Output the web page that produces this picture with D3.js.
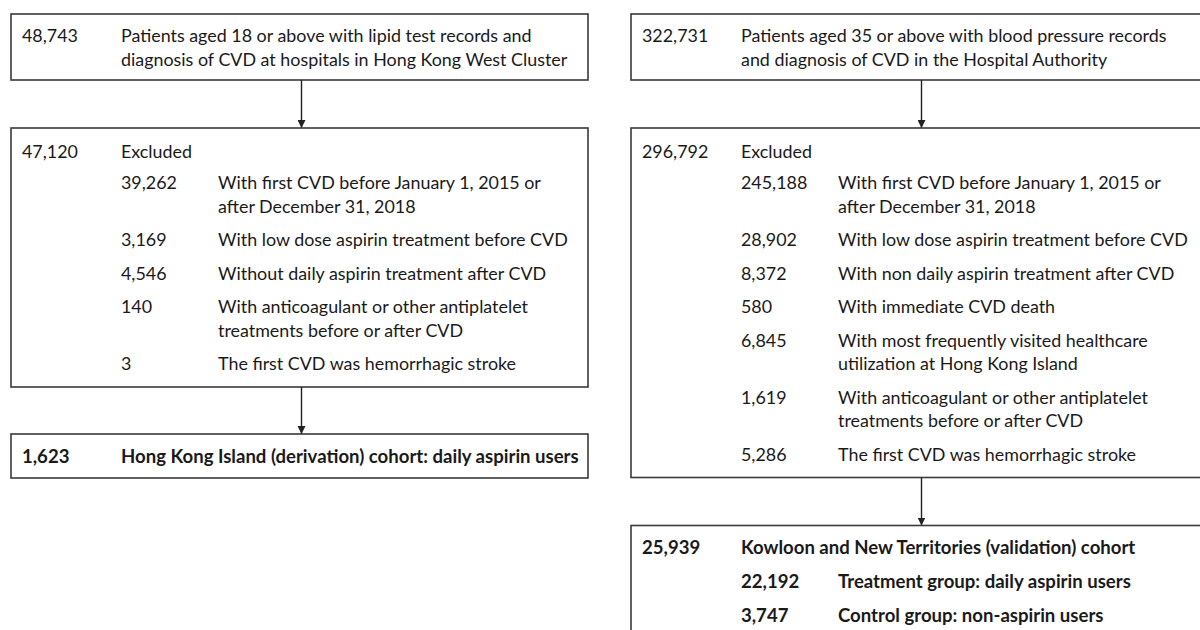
<!DOCTYPE html>
<html>
<head>
<meta charset="utf-8">
<script src="https://cdn.jsdelivr.net/npm/d3@7"></script>
<style>
  body { margin: 0; background: #fff; }
  svg { display: block; }
</style>
</head>
<body>
<div id="flow"></div>
<script>
// left flow: Hong Kong West Cluster
var leftStartCount = "48,743";
var leftStartText = ["Patients aged 18 or above with lipid test records and",
                     "diagnosis of CVD at hospitals in Hong Kong West Cluster"];
var leftExclCount = "47,120";
var leftExclCounts = ["39,262", "3,169", "4,546", "140", "3"];
var leftExclReasons = [
  ["With first CVD before January 1, 2015 or", "after December 31, 2018"],
  ["With low dose aspirin treatment before CVD"],
  ["Without daily aspirin treatment after CVD"],
  ["With anticoagulant or other antiplatelet", "treatments before or after CVD"],
  ["The first CVD was hemorrhagic stroke"]
];
var leftCohortCount = "1,623";
var leftCohortText = "Hong Kong Island (derivation) cohort: daily aspirin users";

// right flow: Hospital Authority
var rightStartCount = "322,731";
var rightStartText = ["Patients aged 35 or above with blood pressure records",
                      "and diagnosis of CVD in the Hospital Authority"];
var rightExclCount = "296,792";
var rightExclCounts = ["245,188", "28,902", "8,372", "580", "6,845", "1,619", "5,286"];
var rightExclReasons = [
  ["With first CVD before January 1, 2015 or", "after December 31, 2018"],
  ["With low dose aspirin treatment before CVD"],
  ["With non daily aspirin treatment after CVD"],
  ["With immediate CVD death"],
  ["With most frequently visited healthcare", "utilization at Hong Kong Island"],
  ["With anticoagulant or other antiplatelet", "treatments before or after CVD"],
  ["The first CVD was hemorrhagic stroke"]
];
var rightCohortCount = "25,939";
var rightCohortText = "Kowloon and New Territories (validation) cohort";
var rightGroupCounts = ["22,192", "3,747"];
var rightGroupText = ["Treatment group: daily aspirin users", "Control group: non-aspirin users"];

var width = 1200;
var height = 630;
var boxW = 577;
var lineH = 23.5;   // within one item
var itemH = 33.5;   // from one item to the next
var font = "Lato, 'Open Sans', sans-serif";

var svg = d3.select("#flow")
  .append("svg")
  .attr("width", width)
  .attr("height", height)
  .style("background", "#fff");

// fit the font so a known line has the width it has in the figure
function fit(str, weight, target) {
  var probe = svg.append("text")
    .attr("font-family", font)
    .attr("font-size", 20)
    .attr("font-weight", weight)
    .text(str);
  var size = 20 * target / probe.node().getComputedTextLength();
  probe.remove();
  return size;
}
var fontSize = fit("With low dose aspirin treatment before CVD", "normal", 350);
var boldSize = fit(leftCohortText, "bold", 458);

svg.append("defs").append("marker")
  .attr("id", "head")
  .attr("viewBox", "0 0 10 10")
  .attr("refX", 10).attr("refY", 5)
  .attr("markerWidth", 8).attr("markerHeight", 8)
  .attr("markerUnits", "userSpaceOnUse")
  .attr("orient", "auto")
  .append("path")
  .attr("d", "M0,0L10,5L0,10Z")
  .attr("fill", "#222");

// column offsets inside a box
var col = d3.scaleOrdinal()
  .domain(["c1", "c2", "c3"])
  .range([11, 110, 207]);

function box(x0, y0, y1) {
  svg.append("rect")
    .attr("x", x0).attr("y", y0)
    .attr("width", boxW).attr("height", y1 - y0)
    .attr("fill", "none")
    .attr("stroke", "#3a3a3a")
    .attr("stroke-width", 1.6);
}

function arrow(x0, y0, y1) {
  var x = x0 + boxW / 2 + 2;
  svg.append("line")
    .attr("x1", x).attr("x2", x)
    .attr("y1", y0).attr("y2", y1)
    .attr("stroke", "#222")
    .attr("stroke-width", 1.4)
    .attr("marker-end", "url(#head)");
}

function texts(x0, rows, bold) {
  svg.append("g").selectAll("text")
    .data(rows)
    .enter()
    .append("text")
    .attr("x", function(d) { return x0 + col(d.c); })
    .attr("y", function(d) { return d.y; })
    .attr("dy", "0.36em")
    .attr("font-family", font)
    .attr("font-size", bold ? boldSize : fontSize)
    .attr("font-weight", bold ? "bold" : "normal")
    .attr("fill", "#1a1a1a")
    .text(function(d) { return d.t; });
}

// rows of an exclusion list, returns y of last line
function exclusionRows(counts, reasons, y) {
  var rows = [];
  counts.forEach(function(n, i) {
    y += (i == 0 ? 31 : itemH);
    rows.push({ c: "c2", y: y, t: n });
    reasons[i].forEach(function(line, j) {
      if (j > 0) y += lineH;
      rows.push({ c: "c3", y: y, t: line });
    });
  });
  return { rows: rows, last: y };
}

function flow(x0, startCount, startText, exclCount, exclCounts, exclReasons) {
  // start box
  box(x0, 14, 80);
  var r1 = [{ c: "c1", y: 36, t: startCount }];
  startText.forEach(function(line, j) { r1.push({ c: "c2", y: 36 + j * lineH, t: line }); });
  texts(x0, r1, false);
  arrow(x0, 80, 128);

  // excluded box
  var r2 = [{ c: "c1", y: 152, t: exclCount }, { c: "c2", y: 152, t: "Excluded" }];
  var ex = exclusionRows(exclCounts, exclReasons, 152);
  texts(x0, r2.concat(ex.rows), false);
  var bottom = ex.last + 23;
  box(x0, 128, bottom);
  return bottom;
}

// left
var lx = 11;
var lb = flow(lx, leftStartCount, leftStartText, leftExclCount, leftExclCounts, leftExclReasons);
var lTop = lb + 47;
arrow(lx, lb, lTop);
box(lx, lTop, lTop + 44);
texts(lx, [{ c: "c1", y: lTop + 22, t: leftCohortCount },
           { c: "c2", y: lTop + 22, t: leftCohortText }], true);

// right
var rx = 631;
var rb = flow(rx, rightStartCount, rightStartText, rightExclCount, rightExclCounts, rightExclReasons);
var rTop = rb + 48;
arrow(rx, rb, rTop);
box(rx, rTop, rTop + 130);
var r3 = [{ c: "c1", y: rTop + 22, t: rightCohortCount },
          { c: "c2", y: rTop + 22, t: rightCohortText }];
rightGroupCounts.forEach(function(n, i) {
  r3.push({ c: "c2", y: rTop + 56 + i * 34, t: n });
  r3.push({ c: "c3", y: rTop + 56 + i * 34, t: rightGroupText[i] });
});
texts(rx, r3, true);
</script>
</body>
</html>
